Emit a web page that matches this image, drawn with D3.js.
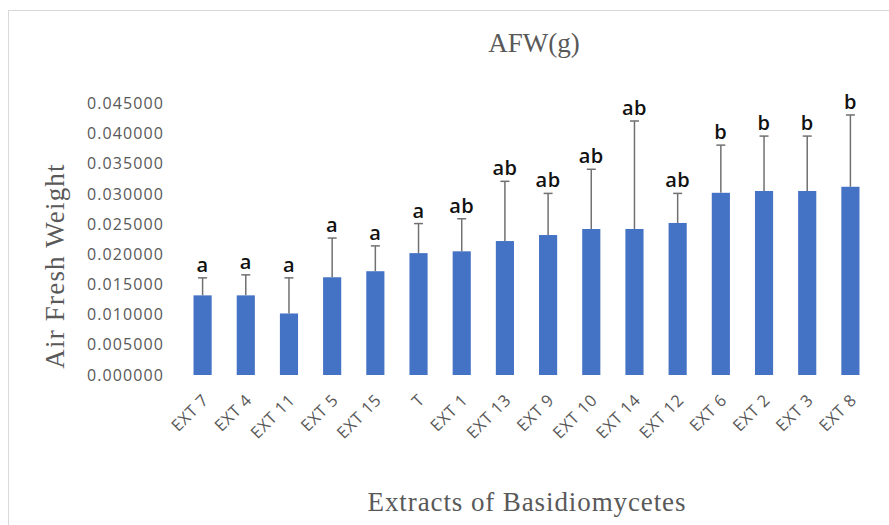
<!DOCTYPE html>
<html>
<head>
<meta charset="utf-8">
<script src="https://cdn.jsdelivr.net/npm/d3@7"></script>
<style>
body { margin:0; background:#fff; }
svg { display:block; }
</style>
</head>
<body>
<svg id="chart" width="889" height="525"></svg>
<script>
const categories = ["EXT 7","EXT 4","EXT 11","EXT 5","EXT 15","T","EXT 1","EXT 13","EXT 9","EXT 10","EXT 14","EXT 12","EXT 6","EXT 2","EXT 3","EXT 8"];
const means = [0.0132,0.0132,0.0102,0.0162,0.0172,0.0202,0.0205,0.0222,0.0232,0.0242,0.0242,0.0252,0.0302,0.0305,0.0305,0.0312];
const errUpper = [0.0161,0.0166,0.0161,0.0227,0.0214,0.0251,0.0259,0.0321,0.0301,0.0341,0.0421,0.0301,0.0381,0.0396,0.0396,0.0431];
const letters = ["a","a","a","a","a","a","ab","ab","ab","ab","ab","ab","b","b","b","b"];
const yTicks = [0,0.005,0.01,0.015,0.02,0.025,0.03,0.035,0.04,0.045];

const svg = d3.select("#chart");
// outer chart border
svg.append("rect").attr("x",8.5).attr("y",10.5).attr("width",900).attr("height",600)
  .attr("fill","none").attr("stroke","#d9d9d9").attr("stroke-width",1);

const x = d3.scaleBand().domain(categories).range([181, 872]).paddingInner(0.58).paddingOuter(0.29);
const y = d3.scaleLinear().domain([0, 0.045]).range([375, 103.5]);

// y axis labels
const yAxis = d3.axisLeft(y).tickValues(yTicks).tickFormat(d3.format(".6f")).tickSize(0).tickPadding(0);
const ya = svg.append("g").attr("transform","translate(164,0)").call(yAxis);
ya.select(".domain").remove();
ya.selectAll("text").attr("fill","#595959").style("font-family","'Open Sans', 'DejaVu Sans', sans-serif")
  .style("font-size","16px").style("letter-spacing","1.1px");

// bars
svg.append("g").selectAll("rect").data(categories).join("rect")
  .attr("x", d => x(d)).attr("width", x.bandwidth())
  .attr("y", (d,i) => y(means[i])).attr("height", (d,i) => y(0) - y(means[i]))
  .attr("fill","#4472c4");

// error bars
const eg = svg.append("g").attr("stroke","#707070").attr("stroke-width",1.5);
categories.forEach((c,i) => {
  const cx = x(c) + x.bandwidth()/2;
  eg.append("line").attr("x1",cx).attr("x2",cx).attr("y1",y(means[i])).attr("y2",y(errUpper[i]));
  eg.append("line").attr("x1",cx-4.5).attr("x2",cx+4.5).attr("y1",y(errUpper[i])).attr("y2",y(errUpper[i]));
});

// significance letters
svg.append("g").selectAll("text").data(categories).join("text")
  .attr("x", d => x(d) + x.bandwidth()/2)
  .attr("y", (d,i) => y(errUpper[i]) - 6)
  .attr("text-anchor","middle")
  .attr("fill","#111")
  .style("font-family","'Open Sans', 'DejaVu Sans', sans-serif")
  .style("font-size","20px")
  .style("font-weight","600")
  .style("letter-spacing","0.5px")
  .text((d,i) => letters[i]);

// x axis labels
const xAxis = d3.axisBottom(x).tickSize(0).tickPadding(0);
const xa = svg.append("g").attr("transform","translate(0,397)").call(xAxis);
xa.select(".domain").remove();
xa.selectAll("text")
  .attr("fill","#595959")
  .style("font-family","'Open Sans', 'DejaVu Sans', sans-serif")
  .style("font-size","16.5px")
  .style("letter-spacing","0.6px")
  .attr("text-anchor","end")
  .attr("dy","0.35em")
  .attr("transform","translate(3,0) rotate(-45)");

// titles
const serif = "'Liberation Serif', 'DejaVu Serif', serif";
svg.append("text").attr("x",534).attr("y",52).attr("text-anchor","middle")
  .attr("fill","#595959").style("font-family",serif).style("font-size","27px").text("AFW(g)");
svg.append("text").attr("transform","translate(64,266) rotate(-90)").attr("text-anchor","middle")
  .attr("fill","#595959").style("font-family",serif).style("font-size","27px").style("letter-spacing","1.2px").text("Air Fresh Weight");
svg.append("text").attr("x",527).attr("y",511).attr("text-anchor","middle")
  .attr("fill","#595959").style("font-family",serif).style("font-size","27px").style("letter-spacing","0.9px").text("Extracts of Basidiomycetes");
</script>
</body>
</html>
